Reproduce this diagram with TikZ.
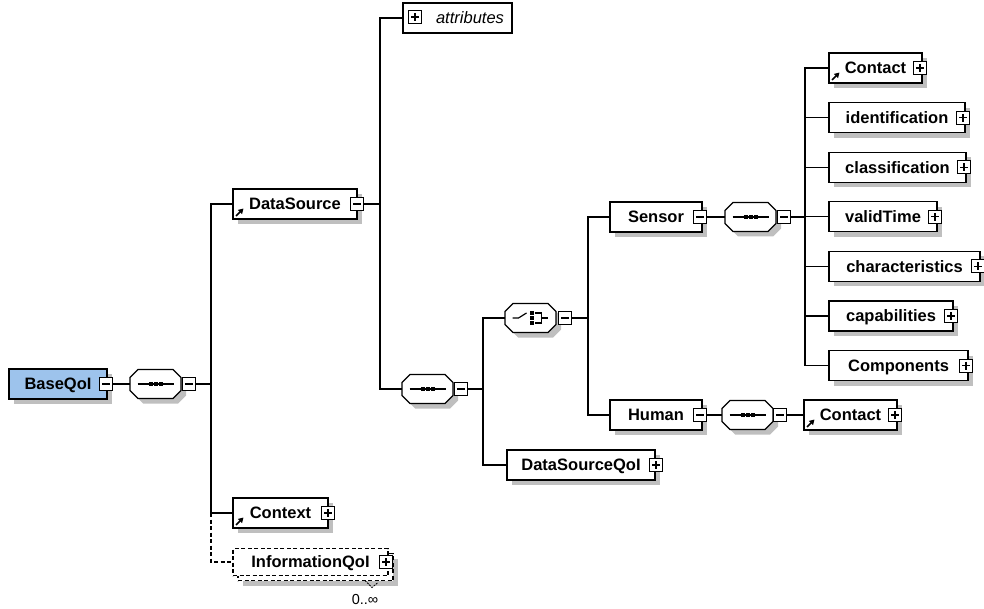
\documentclass[tikz,border=0pt]{standalone}
\usepackage{fontspec}
\setmainfont{Liberation Sans}
\usetikzlibrary{shadows,arrows.meta}

\definecolor{shadowgray}{RGB}{191,191,191}
\definecolor{rootblue}{RGB}{157,195,236}

\tikzset{
  boxshadow/.style={general shadow={draw=none, fill=shadowgray, shadow xshift=5pt, shadow yshift=-5pt}},
  elembase/.style={draw, fill=white, line width=1.2pt, minimum height=30pt, inner sep=0pt, outer sep=0pt,
    anchor=west, text height=11.8pt, text depth=0pt, font=\fontsize{16.5}{18}\selectfont\bfseries},
  elem/.style={elembase, boxshadow},
  root/.style={elem, fill=rootblue},
  optelem/.style={elembase, line width=1.1pt, dash pattern=on 4pt off 2.5pt, minimum height=27pt},
  attrbox/.style={elembase, font=\fontsize{16.5}{18}\selectfont\itshape},
  compbox/.style={minimum width=51pt, minimum height=29pt, inner sep=0pt, outer sep=0pt, anchor=west},
  octo/.style={draw, fill=white, line width=1.2pt, boxshadow},
  xbox/.style={draw, fill=white, line width=1.1pt, minimum width=13pt, minimum height=13pt, inner sep=0pt, outer sep=0pt},
  collapsebox/.style={xbox, path picture={\draw[line width=1.2pt]
      ([xshift=2.5pt]path picture bounding box.west) -- ([xshift=-2.5pt]path picture bounding box.east);}},
  expandbox/.style={xbox, path picture={\draw[line width=1.2pt]
      ([xshift=2.5pt]path picture bounding box.west) -- ([xshift=-2.5pt]path picture bounding box.east)
      ([yshift=-2.5pt]path picture bounding box.north) -- ([yshift=2.5pt]path picture bounding box.south);}},
  link/.style={line width=1.1pt},
  optlink/.style={link, dash pattern=on 4pt off 2.5pt},
  refarrow/.style={line width=1.5pt, -{Triangle[length=5pt,width=5.5pt]}},
  symline/.style={line width=1.2pt},
}

% octagonal compositor outline around an (invisible) compositor node
\newcommand\drawoctagon[1]{%
  \draw[octo] ([xshift=8pt]#1.north west) -- ([xshift=-8pt]#1.north east)
    -- ([yshift=-8pt]#1.north east) -- ([yshift=8pt]#1.south east)
    -- ([xshift=-8pt]#1.south east) -- ([xshift=8pt]#1.south west)
    -- ([yshift=8pt]#1.south west) -- ([yshift=-8pt]#1.north west) -- cycle;}

% sequence symbol: a line with three dots
\newcommand\seqmark[1]{%
  \draw[symline] ([xshift=-18pt]#1.center) -- ([xshift=18pt]#1.center);
  \foreach \d in {-5,0,5}
    \fill ([xshift=\d pt]#1.center) +(-2pt,-2pt) rectangle +(2pt,2pt);}

% choice symbol: a switch in front of three stacked dots
\newcommand\choicemark[1]{%
  \draw[symline] ([xshift=-18pt]#1.center) -- ([xshift=-12pt]#1.center) -- ([xshift=-4pt,yshift=5pt]#1.center);
  \foreach \d in {-5,0,5}
    \fill ([xshift=1pt,yshift=\d pt]#1.center) +(-2pt,-2pt) rectangle +(2pt,2pt);
  \draw[symline] ([xshift=4pt,yshift=5pt]#1.center) -- ([xshift=11pt,yshift=5pt]#1.center)
    -- ([xshift=11pt,yshift=-5pt]#1.center) -- ([xshift=4pt,yshift=-5pt]#1.center);
  \draw[symline] ([xshift=11pt]#1.center) -- ([xshift=17pt]#1.center);}

% small reference arrow in the lower left corner of an element
\newcommand\refmark[1]{\draw[refarrow] ([xshift=3pt,yshift=3pt]#1.south west) -- ++(7.5pt,7.5pt);}

\begin{document}
\begin{tikzpicture}[x=1pt, y=-1pt]
\useasboundingbox (0,0) rectangle (984,609);

% ---------- root element and its sequence ----------
\node[root, minimum width=98pt] (base) at (9,384) {BaseQoI};
\node[collapsebox] (base-x) at (106,384) {};

\node[compbox] (seq1) at (130,384) {};
\drawoctagon{seq1}
\seqmark{seq1}
\node[collapsebox] (seq1-x) at (189,384) {};
\draw[link] (base-x.east) -- (seq1.west);

\coordinate (bus1) at (211,384);
\draw[link] (seq1-x.east) -- (bus1);

% ---------- children of BaseQoI ----------
\node[elem, minimum width=124pt] (ds) at (233,204) {DataSource};
\refmark{ds}
\node[collapsebox] (ds-x) at (357,204) {};
\draw[link] (bus1) |- (ds.west);

\node[elem, minimum width=95pt] (ctx) at (233,513) {Context};
\refmark{ctx}
\node[expandbox] (ctx-x) at (328,513) {};
\draw[link] (bus1) |- (ctx.west);

\node[optelem, boxshadow, minimum width=155pt] (info-back) at (238,567) {};
\node[optelem, minimum width=155pt] (info) at (233,562) {InformationQoI};
\node[expandbox] (info-x) at (386,562) {};
\draw[optlink] (bus1 |- ctx.west) |- (info.west);
\draw[line width=.8pt, dash pattern=on 2pt off 1pt] ([xshift=-28pt]info-back.south east) -- ++(7,7) -- ++(6,-5);
\node[font=\fontsize{14.5}{16}\selectfont, inner sep=0pt] (info-occ) at (365,600) {0..∞};

% ---------- DataSource content ----------
\coordinate (bus2) at (380,204);
\draw[link] (ds-x.east) -- (bus2);

\node[attrbox, minimum width=109pt] (attr) at (403,18) {\hspace*{25pt}attributes};
\node[expandbox] (attr-x) at (415,17) {};
\draw[link] (bus2) |- (attr.west);

\node[compbox] (seq2) at (402,389) {};
\drawoctagon{seq2}
\seqmark{seq2}
\node[collapsebox] (seq2-x) at (461,389) {};
\draw[link] (bus2) |- (seq2.west);

\coordinate (bus3) at (483,389);
\draw[link] (seq2-x.east) -- (bus3);

\node[compbox] (choice) at (505,318) {};
\drawoctagon{choice}
\choicemark{choice}
\node[collapsebox] (choice-x) at (565,318) {};
\draw[link] (bus3) |- (choice.west);

\node[elem, minimum width=148pt] (dsq) at (507,465) {DataSourceQoI};
\node[expandbox] (dsq-x) at (656,465) {};
\draw[link] (bus3) |- (dsq.west);

\coordinate (bus4) at (588,318);
\draw[link] (choice-x.east) -- (bus4);

% ---------- Sensor branch ----------
\node[elem, minimum width=92pt] (sensor) at (610,217) {Sensor};
\node[collapsebox] (sensor-x) at (700,217) {};
\draw[link] (bus4) |- (sensor.west);

\node[compbox] (seq3) at (725,217) {};
\drawoctagon{seq3}
\seqmark{seq3}
\node[collapsebox] (seq3-x) at (784,217) {};
\draw[link] (sensor-x.east) -- (seq3.west);

\coordinate (bus5) at (805,217);
\draw[link] (seq3-x.east) -- (bus5);

\foreach \name/\lbl/\y/\w in {contact/Contact/68/93, ident/identification/117.6/136,
    class/classification/167.2/137, valid/validTime/216.8/108, charac/characteristics/266.4/151,
    capab/capabilities/316/124, comp/Components/365.6/139}{
  \node[elem, minimum width=\w pt] (\name) at (829,\y) {\lbl};
  \node[expandbox] (\name-x) at (829+\w-2,\y) {};
  \draw[link] (bus5) |- (\name.west);
}
\refmark{contact}

% ---------- Human branch ----------
\node[elem, minimum width=92pt] (human) at (610,415) {Human};
\node[collapsebox] (human-x) at (700,415) {};
\draw[link] (bus4) |- (human.west);

\node[compbox] (seq4) at (722,415) {};
\drawoctagon{seq4}
\seqmark{seq4}
\node[collapsebox] (seq4-x) at (780,415) {};
\draw[link] (human-x.east) -- (seq4.west);

\node[elem, minimum width=93pt] (contact2) at (804,415) {Contact};
\refmark{contact2}
\node[expandbox] (contact2-x) at (895,415) {};
\draw[link] (seq4-x.east) -- (contact2.west);

\end{tikzpicture}
\end{document}
